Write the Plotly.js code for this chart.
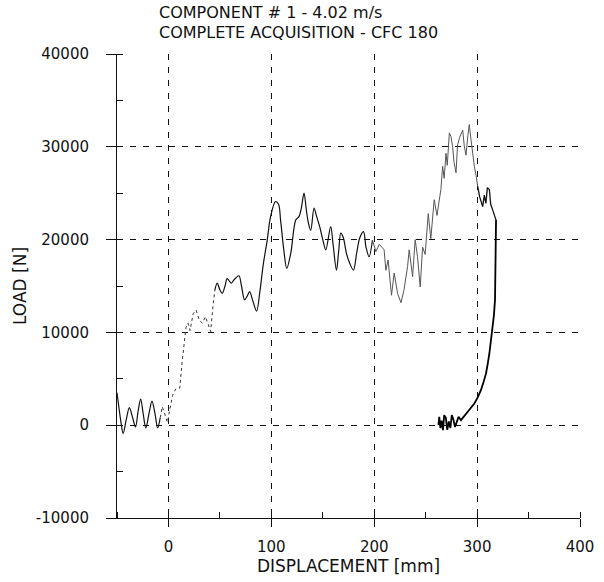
<!DOCTYPE html>
<html>
<head>
<meta charset="utf-8">
<script src="https://cdn.plot.ly/plotly-3.0.1.min.js"></script>
<style>
  html, body { margin: 0; padding: 0; background: #fff; }
  #chart { width: 604px; height: 582px; }
</style>
</head>
<body>
<div id="chart"></div>
<script>
// Load / displacement record, loading branch (mm, N)
const loadingDisp = [
  -50, -48, -46, -44, -41, -38, -35, -32, -29.5, -27, -24.5, -22, -19, -16, -13, -10.5,
  -8, -6, -3, -1, 0.5, 2, 4, 7, 11, 13, 15, 17, 19, 21, 24, 27, 30, 33, 36, 38.5, 41,
  43, 45, 47.4, 50, 52.3, 55, 57.1, 61, 63.6, 68.5, 71, 74, 76.5, 78.9, 82, 85.7,
  89, 92, 96, 99.3, 104, 107, 109, 112, 115, 119, 123.7, 127, 129, 131.8, 134, 136, 138.3,
  141.5, 144, 147, 150, 152.9, 157.7, 160, 163.3, 165.5, 167.5, 170, 173, 176, 179.8,
  183, 186, 189.6, 192, 195, 198.3, 201.6, 205, 209.6, 211.3, 213.5, 216.8, 219.4,
  222.7, 226, 229, 232.4, 234, 237.3, 239.8, 242, 244.7, 247, 249.5, 252.5, 255,
  258.3, 261, 264.8, 266.5, 268, 269.7, 271, 273, 274.6, 276.2, 277.5, 279.5, 281,
  283, 286, 287.5, 289.2, 291, 292.4, 294, 295.5, 297.3, 299, 300.6, 302.5, 305.4,
  307, 308.5, 310, 311.9, 313.2, 315.1, 316.5, 318.4
];
const loadingLoad = [
  3500, 1800, 200, -900, 600, 1900, 900, -200, 1500, 2800, 1200, -300, 1200, 2600, 1200, -300,
  800, 2000, 1000, 300, 1200, 2200, 3200, 3900, 4000, 6500, 8800, 10500, 11000, 10200, 12000, 12400, 11300, 11000, 11700, 11000, 10100,
  12500, 14500, 15300, 14600, 14200, 15000, 15800, 15300, 15650, 16100, 15000, 13500, 13900, 14400, 13400, 12300,
  14500, 17200, 19950, 22500, 24100, 23800, 22100, 19000, 16900, 18600, 22100, 22500, 23300, 25000, 23200, 21800, 21000,
  23400, 22500, 21400, 20000, 18900, 21400, 19500, 16700, 18800, 20700, 20200, 18500, 17500, 16700,
  18600, 20200, 20850, 19200, 18150, 19960, 18700, 19500, 18900, 16700, 17800, 14000, 16400,
  14200, 13200, 14600, 17100, 18900, 16000, 20000, 18200, 14900, 19200, 18400, 22800, 20100,
  24300, 22600, 25400, 27900, 26600, 29300, 28000, 31500, 31100, 30000, 28400, 27200, 30200,
  31000, 31800, 30100, 29100, 31200, 32400, 30800, 29200, 27900, 26900, 25700, 24600, 23550,
  24800, 23900, 25600, 25400, 23800, 23200, 22700, 22100
];

// Unloading branch (mm, N)
const unloadingDisp = [
  318.4, 318.2, 317.4, 316.3, 315.1, 313.6, 311.9, 310.3, 308.7, 306.4, 303.8, 300.6,
  297.3, 294.2, 290.8, 287.5, 284.3, 282, 280.2, 278.5, 277, 275.4, 274, 272.5, 271,
  269.6, 268, 266.8, 265.5, 264.3, 263.2, 262.4
];
const unloadingLoad = [
  22100, 18900, 13500, 11800, 10600, 9100, 7700, 6600, 5600, 4700, 3800, 3000,
  2340, 1900, 1440, 1000, 540, 900, 300, -200, 600, 1100, -300, 400, -500,
  800, 1080, -540, 500, -300, 900, 0
];

const titleLines = ['COMPONENT # 1 - 4.02 m/s', 'COMPLETE ACQUISITION - CFC 180'];
const xTickVals = [0, 100, 200, 300, 400];
const yTickVals = [-10000, 0, 10000, 20000, 30000, 40000];

// Split the loading branch into stretches by displacement so the steep
// ramp near the origin and the noisy stretch past 200 mm print lighter.
function stretch(lo, hi) {
  const xs = [], ys = [];
  loadingDisp.forEach((d, i) => {
    if (d >= lo && d <= hi) { xs.push(d); ys.push(loadingLoad[i]); }
  });
  return { x: xs, y: ys };
}

const solid = { color: '#111', width: 1.2, shape: 'spline', smoothing: 0.9 };
const pieces = [
  [stretch(-50, -8), solid],
  [stretch(-8, 45), { color: '#333', width: 1, dash: 'dot' }],
  [stretch(45, 198.3), solid],
  [stretch(198.3, 300.6), { color: '#555', width: 1 }],
  [stretch(300.6, 320), { color: '#111', width: 1.3 }]
];

const traces = pieces.map(([p, ln]) => ({
  x: p.x, y: p.y, type: 'scatter', mode: 'lines', line: ln, hoverinfo: 'x+y'
}));
traces.push({
  x: unloadingDisp, y: unloadingLoad, type: 'scatter', mode: 'lines',
  line: { color: '#000', width: 1.8 }, hoverinfo: 'x+y'
});

const fam = '"DejaVu Sans", Verdana, sans-serif';
const ink = '#111';

// Two-line heading, left aligned above the plot area
const titleCentersPx = [12, 33];
const annotations = titleLines.map((t, i) => ({
  text: t,
  xref: 'paper', yref: 'paper',
  x: (158 - 117) / 463, xanchor: 'left',
  y: 1 + (54 - titleCentersPx[i]) / 464, yanchor: 'middle',
  showarrow: false, borderpad: 0,
  font: { family: fam, size: 16, color: ink }
}));

const layout = {
  width: 604,
  height: 582,
  paper_bgcolor: '#fff',
  plot_bgcolor: '#fff',
  showlegend: false,
  margin: { l: 117, r: 24, t: 54, b: 64 },
  font: { family: fam, size: 15, color: ink },
  annotations: annotations,
  xaxis: {
    range: [-50, 400],
    tickvals: xTickVals,
    ticktext: xTickVals.map(String),
    ticks: 'outside', ticklen: 8, tickcolor: ink, tickwidth: 1,
    ticklabelstandoff: 7,
    showline: true, linecolor: ink, linewidth: 1,
    showgrid: true, gridcolor: ink, gridwidth: 1, griddash: '6px,7px',
    zeroline: false,
    minor: { dtick: 50, tick0: 0, ticks: 'inside', ticklen: 6, tickcolor: ink, showgrid: false },
    tickfont: { family: fam, size: 15, color: ink },
    title: { text: 'DISPLACEMENT [mm]', font: { family: fam, size: 17, color: ink }, standoff: 0 }
  },
  yaxis: {
    range: [-10000, 40000],
    tickvals: yTickVals,
    ticktext: yTickVals.map(String),
    ticks: 'outside', ticklen: 10, tickcolor: ink, tickwidth: 1,
    ticklabelstandoff: 14,
    showline: true, linecolor: ink, linewidth: 1,
    showgrid: true, gridcolor: ink, gridwidth: 1, griddash: '6px,7px',
    zeroline: false,
    minor: { dtick: 5000, tick0: 0, ticks: 'inside', ticklen: 6, tickcolor: ink, showgrid: false },
    tickfont: { family: fam, size: 15, color: ink },
    title: { text: 'LOAD [N]', font: { family: fam, size: 17, color: ink }, standoff: 4 }
  }
};

Plotly.newPlot('chart', traces, layout, { displayModeBar: false, staticPlot: true });
</script>
</body>
</html>
